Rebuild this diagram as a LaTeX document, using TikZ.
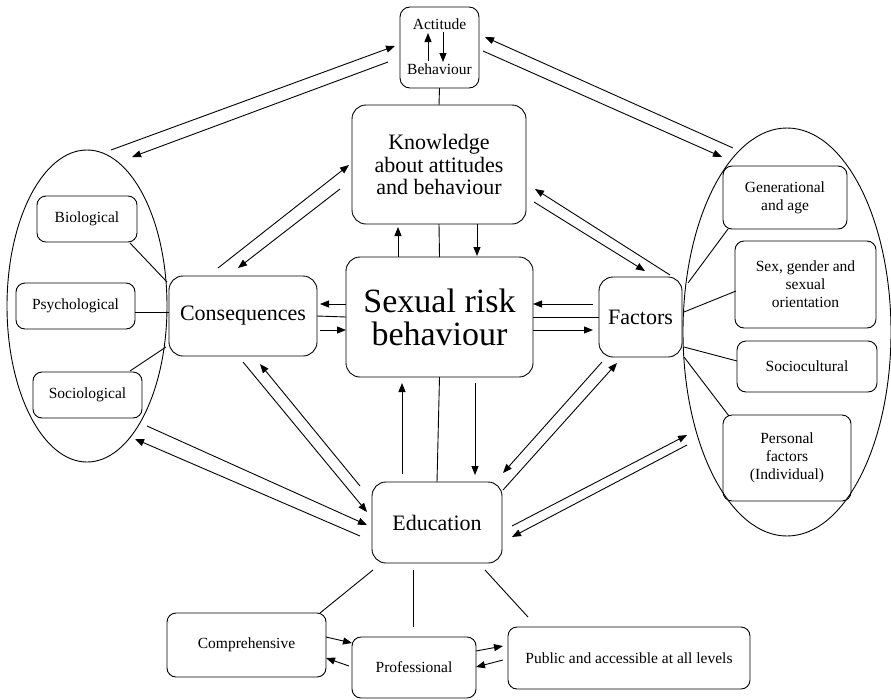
\documentclass[tikz,border=0pt]{standalone}
\usepackage{fontspec}
\setmainfont{Liberation Serif}
\newfontfamily\serifface{Liberation Serif}
\usetikzlibrary{arrows.meta,shapes.geometric,calc}

\begin{document}
\begin{tikzpicture}[x=1pt,y=-1pt,
    box/.style={draw,rounded corners=9pt,align=center,inner sep=0pt,outer sep=0pt,line width=0.9pt},
    bigbox/.style={box,rounded corners=14pt},
    small/.style={font=\serifface\fontsize{15.5}{18}\selectfont},
    big/.style={font=\serifface\fontsize{22}{22.5}\selectfont},
    ring/.style={draw,ellipse,inner sep=0pt,outer sep=0pt,line width=0.9pt},
    arr/.style={-{Triangle[length=9pt,width=7pt]},line width=0.9pt},
    link/.style={line width=0.9pt}]

  \useasboundingbox (0,0) rectangle (891,699);

  % Ellipses
  \node[ring,minimum width=160,minimum height=312] (lell) at (87,306) {};
  \node[ring,minimum width=208,minimum height=408] (rell) at (787,332) {};

  % Top node
  \node[box,rounded corners=10pt,minimum width=79,minimum height=81] (att) at (439.5,47.5) {};
  \node[small] (actext) at (439.5,24) {Actitude};
  \node[small] (behtext) at (439.5,69) {Behaviour};
  \draw[arr] ($(att.center)+(-11.5,13.5)$) -- ($(att.center)+(-11.5,-14.5)$);
  \draw[arr] ($(att.center)+(3.5,-15.5)$) -- ($(att.center)+(3.5,14.5)$);

  % Central nodes
  \node[bigbox,big,minimum width=174,minimum height=119] (know) at (439,164.5) {Knowledge\\about attitudes\\and behaviour};
  \node[bigbox,font=\serifface\fontsize{34}{33}\selectfont,minimum width=187,minimum height=120] (srb) at (439.5,317) {Sexual risk\\behaviour};
  \node[bigbox,big,minimum width=148,minimum height=80] (cons) at (243,316) {Consequences};
  \node[bigbox,big,minimum width=83,minimum height=80] (fac) at (640.5,317) {Factors};
  \node[bigbox,big,minimum width=130,minimum height=81] (edu) at (437,522.5) {Education};

  % Consequence nodes
  \node[box,small,minimum width=100,minimum height=46] (bio) at (87,219) {Biological};
  \node[box,small,minimum width=119,minimum height=46] (psy) at (75.5,306) {Psychological};
  \node[box,small,minimum width=109,minimum height=46] (soc) at (87.5,395) {Sociological};

  % Factor nodes
  \node[box,small,minimum width=124,minimum height=63] (gen) at (785,197.5) {Generational\\and age};
  \node[box,small,minimum width=141,minimum height=87] (sex) at (805.5,284.5) {Sex, gender and\\sexual\\orientation};
  \node[box,small,minimum width=140,minimum height=51] (scult) at (807,366.5) {Sociocultural};
  \node[box,small,minimum width=128,minimum height=86] (pers) at (787,458) {Personal\\factors\\(Individual)};

  % Education nodes
  \node[box,small,minimum width=159,minimum height=64] (comp) at (246.5,645) {Comprehensive};
  \node[box,small,minimum width=124,minimum height=61] (prof) at (414,667.5) {Professional};
  \node[box,small,minimum width=242,minimum height=62] (pub) at (629,658) {Public and accessible at all levels};

  % Vertical links
  \draw[link] (att.south) -- (know.north);
  \draw[link] (know.south) -- (srb.north);
  \draw[link] (srb.south) -- (edu.north);
  \draw[arr] ($(srb.north)+(-41.5,0)$) -- ($(know.south)+(-41,3)$);
  \draw[arr] ($(know.south)+(38,0)$) -- ($(srb.north)+(37.5,-1)$);
  \draw[arr] ($(edu.north)+(-35,-8)$) -- ($(srb.south)+(-37.5,6)$);
  \draw[arr] ($(srb.south)+(35.5,6)$) -- ($(edu.north)+(38,-7)$);

  % Horizontal links
  \draw[arr] ($(srb.west)+(0,-13)$) -- ($(cons.east)+(3,-12)$);
  \draw[link] (cons.east) -- (srb.west);
  \draw[arr] ($(cons.east)+(3,14)$) -- ($(srb.west)+(0,13)$);
  \draw[arr] ($(fac.west)+(-6,-13)$) -- ($(srb.east)+(0,-13)$);
  \draw[link] (srb.east) -- (fac.west);
  \draw[arr] ($(srb.east)+(0,13)$) -- ($(fac.west)+(-6,13)$);

  % Connect knowledge to consequences and factors
  \draw[arr] ($(cons.north)+(-25,-8)$) -- ($(know.west)+(-3,0.5)$);
  \draw[arr] ($(know.west)+(-12,24.5)$) -- ($(cons.north)+(-5,-8)$);
  \draw[arr] ($(know.east)+(8,37.5)$) -- ($(fac.north)+(4.5,-6)$);
  \draw[arr] ($(fac.north)+(29.5,-2)$) -- ($(know.east)+(9,24.5)$);

  % Connect education to the rest
  \draw[arr] ($(cons.south)+(0,6)$) -- ($(edu.west)+(-5,-10.5)$);
  \draw[arr] ($(edu.west)+(-12,-36.5)$) -- ($(cons.south)+(17,8)$);
  \draw[arr] ($(lell.south)+(60,-36)$) -- ($(edu.west)+(-5,2.5)$);
  \draw[arr] ($(edu.west)+(-12,13.5)$) -- ($(lell.south)+(48,-23)$);
  \draw[arr] ($(fac.south)+(-38.5,5)$) -- ($(edu.north east)+(1,-9)$);
  \draw[arr] ($(edu.north east)+(1,8)$) -- ($(fac.south)+(-23.5,6)$);
  \draw[arr] ($(edu.east)+(10,3.5)$) -- ($(rell.west)+(4,103)$);
  \draw[arr] ($(rell.west)+(4,113)$) -- ($(edu.east)+(10,14.5)$);

  % Connect attitude to the ellipses
  \draw[arr] ($(lell.north)+(24,0)$) -- ($(att.west)+(-5,-1.5)$);
  \draw[arr] ($(att.west)+(-12,14.5)$) -- ($(lell.north)+(45,7)$);
  \draw[arr] ($(rell.north)+(-54,20)$) -- ($(att.east)+(6,-10.5)$);
  \draw[arr] ($(att.east)+(4,3.5)$) -- ($(rell.north)+(-65,29)$);

  % Consequence links
  \draw[link] ($(bio.south east)+(-7,1)$) -- ($(cons.north west)+(-2,6)$);
  \draw[link] ($(psy.east)+(0,6)$) -- ($(cons.west)+(0,-4)$);
  \draw[link] ($(soc.north east)+(-12,-1)$) -- ($(cons.south west)+(-3,-9)$);

  % Factor links
  \draw[link] ($(fac.north east)+(6,6)$) -- ($(gen.south west)+(5,0)$);
  \draw[link] ($(fac.east)+(2,-5)$) -- ($(sex.west)+(1,6.5)$);
  \draw[link] ($(fac.east)+(2,30)$) -- ($(scult.west)+(0,-5.5)$);
  \draw[link] ($(fac.south east)+(2,0)$) -- ($(pers.north west)+(6,1)$);

  % Education links
  \draw[link] ($(edu.south west)+(1,7)$) -- ($(comp.north east)+(-6,0)$);
  \draw[link] ($(edu.south)+(-24,7)$) -- ($(prof.north)+(-1,-10)$);
  \draw[link] ($(edu.south east)+(-17,7)$) -- ($(pub.north west)+(20,-10)$);
  \draw[arr] ($(comp.east)+(0,-8)$) -- ($(prof.west)+(0,-24.5)$);
  \draw[arr] ($(prof.west)+(-3,-1.5)$) -- ($(comp.east)+(0,13)$);
  \draw[arr] ($(prof.east)+(0,-16.5)$) -- ($(pub.west)+(-5,-12)$);
  \draw[arr] ($(pub.west)+(-5,2)$) -- ($(prof.east)+(0,-0.5)$);

\end{tikzpicture}
\end{document}
